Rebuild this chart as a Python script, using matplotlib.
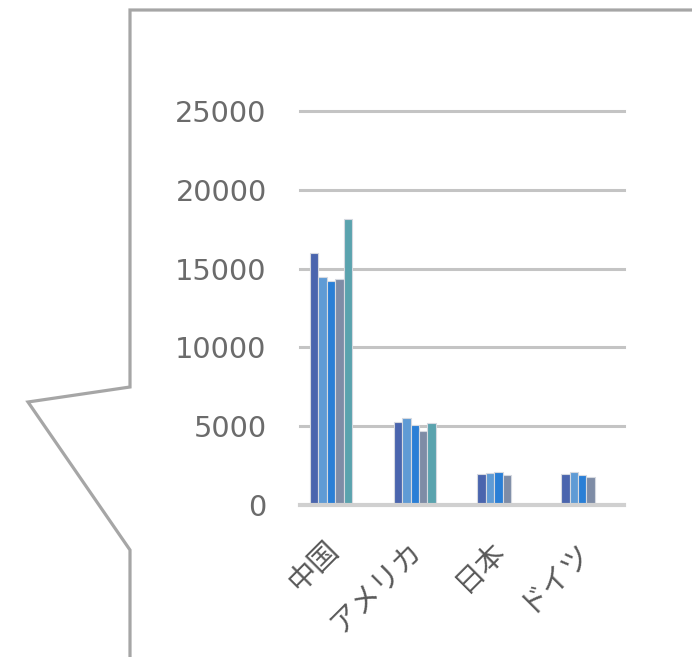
import numpy as np
import matplotlib
matplotlib.use("Agg")
import matplotlib.pyplot as plt
from matplotlib.lines import Line2D
from matplotlib.transforms import ScaledTranslation

plt.rcParams['font.family'] = ['DejaVu Sans', 'Noto Sans CJK JP']

# data
countries = ["中国", "アメリカ", "日本", "ドイツ"]
series_1 = [15990, 5250, 1970, 1970]
series_2 = [14470, 5500, 2030, 2090]
series_3 = [14210, 5080, 2090, 1890]
series_4 = [14360, 4720, 1890, 1780]
series_5 = [18150, 5180, np.nan, np.nan]
y_ticks = [0, 5000, 10000, 15000, 20000, 25000]

series = [series_1, series_2, series_3, series_4, series_5]
colors = ["#4A65AE", "#5F9BD5", "#2A7FD6", "#7E8CA6", "#5AA3AE"]

W, H = 692, 657
fig = plt.figure(figsize=(W / 100, H / 100), dpi=100)


def fx(px):
    return px / W


def fy(py):
    return 1 - py / H


# callout outline
pts = [(130, 670), (130, 550), (28, 402), (130, 387), (130, 10), (700, 10)]
fig.add_artist(Line2D([fx(p[0]) for p in pts], [fy(p[1]) for p in pts],
                      color="#A6A6A6", lw=2.3, solid_joinstyle="miter"))

ax = fig.add_axes([fx(300), fy(505), fx(624) - fx(300), fy(111) - fy(505)])
ax.set_zorder(2)

x = np.arange(len(countries))
width = 0.1
for i, (vals, c) in enumerate(zip(series, colors)):
    ax.bar(x + (i - 2) * width, vals, width, color=c, edgecolor="#D5D9E0",
           linewidth=0.8, zorder=3)

ax.set_xlim(-0.37, 3.5)
ax.set_ylim(0, 25000)
ax.set_yticks(y_ticks)
ax.set_yticklabels([str(v) for v in y_ticks])
for v in y_ticks[1:]:
    ax.axhline(v, color="#C4C4C4", lw=2.2, zorder=1, clip_on=False)
ax.axhline(0, color="#D0D0D0", lw=3, zorder=4, clip_on=False)

for s in ax.spines.values():
    s.set_visible(False)
ax.tick_params(axis="y", length=0, pad=24, labelsize=20.7, labelcolor="#6B6B6B")
ax.tick_params(axis="x", length=0)
ax.set_xticks(x)
ax.set_xticklabels([])

offset = ScaledTranslation(3 / 100, -41 / 100, fig.dpi_scale_trans)
for xi, name in zip(x, countries):
    ax.text(xi, 0, name, transform=ax.get_xaxis_transform() + offset,
            rotation=45, rotation_mode="anchor", ha="right", va="center",
            fontsize=21, color="#595959")

fig.savefig("out.png", dpi=100)
